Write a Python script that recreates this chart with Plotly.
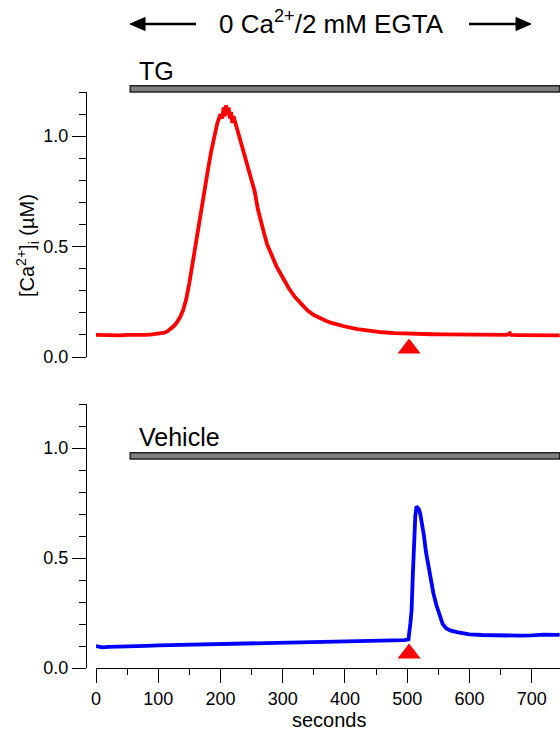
import plotly.graph_objects as go

# ---------------- data ----------------
tg_t = [0, 10, 20, 30, 40, 50, 60, 70, 80, 90, 100, 105, 110, 115, 120, 125, 130, 135,
        140, 145, 150, 155, 160, 165, 170, 175, 180, 185, 190, 195, 200, 203, 205, 207,
        209, 211, 213, 215, 217, 219, 221, 225, 230, 235, 240, 245, 250, 255, 260, 265,
        270, 275, 280, 285, 290, 300, 310, 320, 330, 340, 350, 360, 370, 380, 390, 400,
        420, 440, 460, 480, 500, 520, 540, 560, 580, 600, 620, 640, 660, 665, 667, 680,
        700, 720, 740, 745]
tg_v = [0.100, 0.099, 0.101, 0.100, 0.098, 0.100, 0.099, 0.101, 0.100, 0.102, 0.104,
        0.106, 0.110, 0.117, 0.127, 0.140, 0.157, 0.180, 0.212, 0.262, 0.335, 0.425, 0.515,
        0.60, 0.685, 0.77, 0.85, 0.93, 1.00, 1.06, 1.10, 1.08, 1.13, 1.09, 1.14, 1.10,
        1.13, 1.08, 1.11, 1.06, 1.09, 1.05, 0.99, 0.955, 0.90, 0.85, 0.80, 0.75, 0.67,
        0.61, 0.56, 0.51, 0.48, 0.44, 0.41, 0.36, 0.31, 0.27, 0.24, 0.21, 0.19, 0.175,
        0.163, 0.153, 0.145, 0.138, 0.126, 0.118, 0.112, 0.108, 0.105, 0.104, 0.103,
        0.102, 0.101, 0.101, 0.100, 0.100, 0.100, 0.108, 0.100, 0.099, 0.099, 0.098,
        0.099, 0.098]

veh_t = [0, 5, 10, 20, 40, 60, 80, 100, 120, 140, 160, 180, 200, 220, 240, 260, 280,
         300, 320, 340, 360, 380, 400, 420, 440, 460, 480, 495, 500, 502, 505, 507, 509,
         511, 513, 515, 517, 519, 521, 524, 527, 530, 534, 538, 542, 547, 552, 557, 563,
         570, 580, 590, 600, 620, 640, 660, 680, 700, 720, 740, 745]
veh_v = [0.100, 0.097, 0.094, 0.096, 0.099, 0.100, 0.101, 0.103, 0.104, 0.106, 0.107,
         0.109, 0.110, 0.111, 0.113, 0.115, 0.114, 0.115, 0.116, 0.116, 0.117, 0.118,
         0.118, 0.119, 0.120, 0.121, 0.124, 0.127, 0.129, 0.130, 0.20, 0.26, 0.42, 0.58,
         0.69, 0.735, 0.73, 0.72, 0.70, 0.66, 0.60, 0.53, 0.46, 0.39, 0.34, 0.285, 0.235,
         0.20, 0.18, 0.17, 0.163, 0.158, 0.153, 0.150, 0.148, 0.147, 0.147, 0.148, 0.152,
         0.151, 0.152]

marker_t = [503]          # red triangle (addition time)
marker_tg = [0.038]
marker_veh = [0.066]

bar_start, bar_end = 55, 745   # gray treatment bars (seconds)
bar_level_tg = 1.214           # in top-panel y units
bar_level_veh = 0.964          # in bottom-panel y units
bar_half = 0.014

x_ticks = [0, 100, 200, 300, 400, 500, 600, 700]
y_ticks = [0.0, 0.5, 1.0]
y_tick_text = ["0.0", "0.5", "1.0"]

# ---------------- layout geometry ----------------
W, H = 560, 731
X_DOM = [96 / W, 1.0]
Y_POS = 86 / W
TOP_DOM = [(H - 357) / H, (H - 92) / H]
BOT_DOM = [(H - 668) / H, (H - 404) / H]
Y_MAX = 1.2
X_RANGE = [0, 745.5]
FONT = "Liberation Sans, Arial, Helvetica, sans-serif"


def to_paper(v, dom):
    return dom[0] + v / Y_MAX * (dom[1] - dom[0])


def px(xp):
    return xp / W


def py(yp):
    return (H - yp) / H


fig = go.Figure()
fig.add_trace(go.Scatter(x=tg_t, y=tg_v, mode="lines", xaxis="x2", yaxis="y2",
                         line=dict(color="#ff0000", width=3.8), name="TG"))
fig.add_trace(go.Scatter(x=veh_t, y=veh_v, mode="lines", xaxis="x", yaxis="y",
                         line=dict(color="#0000ff", width=3.8), name="Vehicle"))
fig.add_trace(go.Scatter(x=marker_t, y=marker_tg, mode="markers", xaxis="x2", yaxis="y2",
                         marker=dict(symbol="triangle-up", size=20, color="#ff0000"),
                         cliponaxis=False))
fig.add_trace(go.Scatter(x=marker_t, y=marker_veh, mode="markers", xaxis="x", yaxis="y",
                         marker=dict(symbol="triangle-up", size=20, color="#ff0000"),
                         cliponaxis=False))

yaxis_common = dict(range=[0, Y_MAX], anchor="free", position=Y_POS,
                    showline=True, linecolor="black", linewidth=1.3,
                    ticks="outside", ticklen=14, tickwidth=1.3, tickcolor="black",
                    tickvals=y_ticks, ticktext=y_tick_text,
                    tickfont=dict(family=FONT, size=18, color="black"),
                    minor=dict(tick0=0, dtick=0.1, ticks="outside", ticklen=7,
                               tickwidth=1.3, tickcolor="black", showgrid=False),
                    showgrid=False, zeroline=False, fixedrange=True)

fig.update_layout(
    width=W, height=H,
    margin=dict(l=0, r=0, t=0, b=0, autoexpand=False),
    paper_bgcolor="white", plot_bgcolor="white",
    showlegend=False,
    xaxis=dict(domain=X_DOM, range=X_RANGE, anchor="y",
               showline=True, linecolor="black", linewidth=1.3,
               ticks="outside", ticklen=14, tickwidth=1.3, tickcolor="black",
               tickvals=x_ticks,
               tickfont=dict(family=FONT, size=18, color="black"),
               minor=dict(tick0=0, dtick=50, ticks="outside", ticklen=6,
                          tickwidth=1.3, tickcolor="black", showgrid=False),
               showgrid=False, zeroline=False),
    xaxis2=dict(domain=X_DOM, range=X_RANGE, anchor="y2", matches="x", visible=False),
    yaxis=dict(domain=BOT_DOM, **yaxis_common),
    yaxis2=dict(domain=TOP_DOM, **yaxis_common),
)

# gray bars
for level, dom in [(bar_level_tg, TOP_DOM), (bar_level_veh, BOT_DOM)]:
    fig.add_shape(type="rect", xref="x", yref="paper",
                  x0=bar_start, x1=bar_end,
                  y0=to_paper(level - bar_half, dom), y1=to_paper(level + bar_half, dom),
                  fillcolor="#808080", line=dict(color="#222222", width=1.5))

# header arrows (line + filled head), drawn as shapes in paper coords
ARROW_Y = 24
for tip, tail in [(130, 196), (531, 469)]:
    d = 1 if tail > tip else -1
    head_len, head_half = 15, 6.5
    fig.add_shape(type="line", xref="paper", yref="paper",
                  x0=px(tail), y0=py(ARROW_Y), x1=px(tip + d * (head_len - 2)), y1=py(ARROW_Y),
                  line=dict(color="black", width=2.6))
    path = "M {},{} L {},{} L {},{} Z".format(
        px(tip), py(ARROW_Y),
        px(tip + d * head_len), py(ARROW_Y - head_half),
        px(tip + d * head_len), py(ARROW_Y + head_half))
    fig.add_shape(type="path", xref="paper", yref="paper", path=path,
                  fillcolor="black", line=dict(color="black", width=1))

ann = []
ann.append(dict(x=px(331), y=py(23), xref="paper", yref="paper", showarrow=False,
                text="0 Ca<sup>2+</sup>/2 mM EGTA", xanchor="center", yanchor="middle",
                font=dict(family=FONT, size=26, color="black")))
ann.append(dict(x=px(137), y=py(71), xref="paper", yref="paper", showarrow=False,
                text="TG", xanchor="left", yanchor="middle",
                font=dict(family=FONT, size=25, color="black")))
ann.append(dict(x=px(137), y=py(437), xref="paper", yref="paper", showarrow=False,
                text="Vehicle", xanchor="left", yanchor="middle",
                font=dict(family=FONT, size=25, color="black")))
ann.append(dict(x=px(27), y=py(246), xref="paper", yref="paper", showarrow=False,
                text="[Ca<sup>2+</sup>]<sub>i</sub> (µM)", textangle=-90,
                xanchor="center", yanchor="middle",
                font=dict(family=FONT, size=20, color="black")))
ann.append(dict(x=px(329), y=py(720), xref="paper", yref="paper", showarrow=False,
                text="seconds", xanchor="center", yanchor="middle",
                font=dict(family=FONT, size=20, color="black")))
fig.update_layout(annotations=ann)

fig.write_html("out.html")
